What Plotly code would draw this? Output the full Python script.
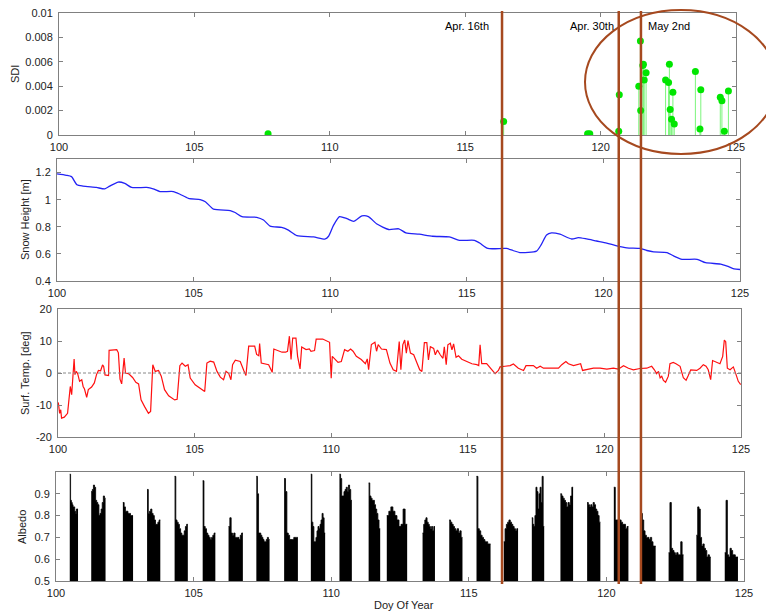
import plotly.graph_objects as go

# the page body adds an 8px margin, so the figure is drawn 8px smaller and offset
OFF = 8
W, H = 774 - OFF, 614 - OFF

# ---------------- data ----------------
sdi_day = [107.72, 116.42, 119.52, 119.60, 120.67, 120.69, 121.41, 121.47, 121.48, 121.56, 121.58,
           121.61, 121.68, 122.40, 122.51, 122.54, 122.57, 122.62, 122.67, 122.72, 123.50, 123.67,
           123.70, 124.42, 124.48, 124.57, 124.72]
sdi_val = [0.0001, 0.0011, 0.0001, 0.0001, 0.0003, 0.0033, 0.0040, 0.0077, 0.0020, 0.0057, 0.0058,
           0.0045, 0.0051, 0.0045, 0.0043, 0.0058, 0.0021, 0.0013, 0.0035, 0.0009, 0.0052, 0.0005,
           0.0037, 0.0031, 0.0028, 0.0003, 0.0036]

snow_day = [100.0, 100.34, 100.53, 100.73, 100.95, 101.44, 101.75, 101.93, 102.24, 102.48, 102.73,
            103.28, 103.52, 103.77, 104.26, 104.50, 104.81, 105.24, 105.43, 105.73, 106.34, 106.52,
            106.77, 107.31, 107.56, 107.80, 108.22, 108.47, 108.78, 109.39, 109.82, 109.94, 110.12,
            110.34, 110.61, 110.86, 111.16, 111.40, 111.71, 112.14, 112.51, 112.77, 113.26, 113.75,
            114.36, 114.73, 115.28, 115.47, 115.77, 116.45, 116.69, 116.94, 117.55, 117.73, 117.92,
            118.10, 118.41, 118.84, 119.08, 119.39, 119.75, 120.12, 120.49, 120.86, 121.35, 121.59,
            121.84, 122.33, 122.57, 122.88, 123.43, 123.74, 124.29, 124.53, 124.78, 125.0]
snow_val = [1.19, 1.18, 1.17, 1.11, 1.10, 1.09, 1.08, 1.10, 1.13, 1.12, 1.09,
            1.09, 1.08, 1.06, 1.06, 1.04, 1.01, 1.00, 0.985, 0.93, 0.92, 0.905,
            0.875, 0.87, 0.85, 0.805, 0.795, 0.775, 0.735, 0.725, 0.71, 0.73, 0.81,
            0.875, 0.86, 0.84, 0.88, 0.875, 0.82, 0.78, 0.785, 0.755, 0.745, 0.73,
            0.725, 0.70, 0.70, 0.68, 0.64, 0.64, 0.625, 0.61, 0.62, 0.67, 0.74,
            0.755, 0.745, 0.71, 0.72, 0.71, 0.695, 0.68, 0.66, 0.645, 0.64, 0.625,
            0.615, 0.61, 0.585, 0.56, 0.56, 0.535, 0.525, 0.51, 0.49, 0.485]

temp_day = [100.01, 100.06, 100.10, 100.13, 100.23, 100.35, 100.40, 100.45, 100.50, 100.55, 100.59,
            100.62, 100.67, 100.72, 100.79, 100.87, 100.92, 100.97, 101.05, 101.11, 101.23, 101.33,
            101.41, 101.48, 101.56, 101.63, 101.67, 101.72, 101.85, 101.87, 102.15, 102.21, 102.27,
            102.33, 102.38, 102.42, 102.47, 102.58, 102.73, 102.85, 102.95, 103.04, 103.17, 103.31,
            103.39, 103.47, 103.56, 103.68, 103.78, 103.90, 104.05, 104.27, 104.36, 104.46, 104.54,
            104.66, 104.76, 104.84, 105.02, 105.24, 105.37, 105.45, 105.57, 105.70, 105.82, 105.94,
            106.06, 106.15, 106.25, 106.33, 106.39, 106.49, 106.67, 106.80, 106.88, 106.98, 107.20,
            107.27, 107.35, 107.38, 107.44, 107.71, 107.84, 107.90, 108.20, 108.33,
            108.40, 108.47, 108.53, 108.59, 108.71, 108.77, 108.86, 108.92, 109.08, 109.20, 109.26,
            109.39, 109.45, 109.69, 109.94, 110.00, 110.04, 110.25, 110.37, 110.49, 110.61, 110.71,
            110.80, 110.92, 111.10, 111.25, 111.32, 111.37, 111.47, 111.60, 111.66, 111.72, 111.84,
            112.02, 112.15, 112.27, 112.39, 112.49,
            112.55, 112.62, 112.69, 112.75, 112.81, 112.90, 113.02, 113.14, 113.24, 113.32, 113.41,
            113.50, 113.56, 113.63, 113.75, 113.81, 113.89, 113.99, 114.09, 114.14, 114.21, 114.27,
            114.36, 114.42, 114.48, 114.57, 114.66, 114.78, 114.96, 115.15, 115.33, 115.40, 115.45,
            115.51, 115.69, 115.82, 116.00, 116.12, 116.18, 116.36, 116.55,
            116.67, 116.85, 117.04, 117.13, 117.40, 117.52, 117.65, 117.77, 118.32, 118.44, 118.59,
            118.68, 118.87, 119.01, 119.13, 119.20, 119.35, 119.60, 119.84, 120.09, 120.33, 120.51,
            120.70, 120.88, 121.06, 121.30, 121.55, 121.73, 121.83, 121.91, 121.98, 122.04, 122.10,
            122.16, 122.24, 122.34, 122.40, 122.52, 122.62, 122.77, 122.89, 122.99, 123.07, 123.16,
            123.38, 123.50, 123.62, 123.72, 123.80, 123.89, 123.96, 124.23, 124.33, 124.39, 124.44,
            124.50, 124.60, 124.72, 124.82, 124.90, 124.99]
temp_val = [-9.2, -12.6, -11.5, -14.1, -13.8, -12.6, -8.4, -4.2, -6.8, -1.0, 4.4,
            -0.5, 0.5, -0.2, -2.6, -2.1, -4.2, -5.0, -7.6, -5.2, -4.4, -3.1,
            -0.5, 0.8, 0.7, 2.5, 2.1, -0.6, -0.8, 7.1, 7.3, 6.3, -1.9,
            -3.4, 0.2, 4.7, 0.0, -0.2, -1.4, -2.9, -3.4, -8.4, -10.5, -12.6,
            -12.0, 2.6, 0.5, 0.8, -1.0, -5.2, -7.1, -8.4, -8.2, 2.3, 3.1,
            2.1, 2.6, -1.6, -3.7, -5.2, -5.8, 3.1, 3.7, 3.4, 0.5, -1.3,
            -2.1, 0.5, -0.2, -2.1, 2.6, 4.0, 3.6, 0.8, -0.8, 8.4, 8.4,
            5.8, 5.4, 9.2, 3.1, 2.6, 0.2, 7.5, 6.5, 6.5,
            6.8, 11.5, 4.2, 10.9, 10.9, 5.2, 1.3, 8.1, 7.3, 7.5, 6.8,
            7.0, 10.6, 10.6, 9.6, -1.6, 5.2, 3.3, 3.6, 7.3, 6.8, 7.5,
            6.8, 5.2, 4.2, 2.9, 4.4, 1.0, 8.9, 9.6, 6.8, 8.9, 7.5,
            7.3, 3.1, 1.0, 0.5, 9.8,
            1.0, 8.8, 10.3, 6.2, 10.1, 6.2, 5.7, 3.1, 1.0, 0.5, 9.5,
            9.5, 4.1, 8.2, 7.7, 5.7, 7.2, 5.7, 4.6, 8.2, 2.6, 8.8,
            9.3, 7.2, 9.1, 4.9, 5.4, 4.3, 3.6, 2.9, 2.6, 2.3, 8.8,
            2.9, 2.9, 1.5, -0.2, 0.8, 1.9, 2.1, 2.3,
            2.8, 1.5, 0.8, 2.3, 2.3, 1.5, 2.1, 1.5, 1.5, 2.6, 3.6,
            2.9, 2.3, 2.6, 2.9, 0.8, 1.0, 1.5, 1.5, 1.2, 1.5, 1.2,
            2.3, 1.5, 1.0, 1.4, 1.5, 2.1, 1.0, -0.2, 0.5, -1.5, -1.0,
            -2.3, -2.9, -1.0, 2.9, 3.3, 2.9, 2.1, -1.5, -2.3, -0.8, 1.0,
            0.8, 1.5, 2.6, 2.1, 1.0, -2.1, 3.9, 2.9, 5.2, 10.3, 9.8,
            1.5, 1.0, 1.9, -0.5, -2.6, -3.6]

alb_start = [100.50, 101.28, 102.43, 103.31, 104.31, 105.33, 106.27, 107.28, 108.29, 109.26,
             110.30, 111.36, 112.02, 113.32, 114.29, 115.28, 116.27, 117.29, 118.33, 119.30,
             120.27, 121.26, 122.26, 123.27, 124.30]
alb_end = [100.80, 101.80, 102.80, 103.79, 104.79, 105.79, 106.79, 107.76, 108.79, 109.78,
           110.75, 111.78, 112.76, 113.77, 114.77, 115.79, 116.79, 117.74, 118.79, 119.78,
           120.80, 121.79, 122.80, 123.79, 124.78]
alb_vals = [
    [0.99, 0.87, 0.86, 0.85, 0.84, 0.84, 0.82, 0.81, 0.83, 0.83],
    [0.91, 0.92, 0.94, 0.93, 0.87, 0.86, 0.85, 0.80, 0.81, 0.83, 0.86, 0.89, 0.88],
    [0.86, 0.84, 0.82, 0.82, 0.81, 0.81, 0.80, 0.80],
    [0.92, 0.81, 0.82, 0.83, 0.81, 0.80, 0.78, 0.76, 0.76, 0.77, 0.78],
    [0.98, 0.78, 0.77, 0.76, 0.74, 0.72, 0.71, 0.71, 0.73, 0.75, 0.76],
    [0.96, 0.75, 0.74, 0.72, 0.71, 0.70, 0.69, 0.70, 0.71, 0.72],
    [0.75, 0.79, 0.72, 0.71, 0.72, 0.70, 0.70, 0.70, 0.69, 0.71, 0.72],
    [0.98, 0.90, 0.72, 0.72, 0.71, 0.70, 0.69, 0.68, 0.68, 0.69, 0.70, 0.69],
    [0.97, 0.91, 0.72, 0.71, 0.69, 0.69, 0.69, 0.70, 0.70, 0.70],
    [0.99, 0.77, 0.75, 0.68, 0.68, 0.70, 0.73, 0.75, 0.74, 0.76, 0.78, 0.81, 0.79, 0.72],
    [0.99, 0.97, 0.89, 0.89, 0.91, 0.92, 0.93, 0.91, 0.94, 0.92, 0.87],
    [0.95, 0.89, 0.88, 0.87, 0.87, 0.85, 0.83, 0.81, 0.78, 0.74],
    [0.80, 0.82, 0.84, 0.82, 0.80, 0.78, 0.75, 0.76, 0.83, 0.76],
    [0.72, 0.76, 0.78, 0.79, 0.77, 0.76, 0.75, 0.74, 0.75, 0.73, 0.75],
    [0.78, 0.77, 0.76, 0.75, 0.74, 0.73, 0.74, 0.72, 0.73, 0.70],
    [0.98, 0.74, 0.73, 0.71, 0.70, 0.69, 0.68, 0.68, 0.67, 0.67],
    [0.68, 0.74, 0.76, 0.77, 0.78, 0.77, 0.76, 0.75, 0.74, 0.73, 0.74],
    [0.79, 0.76, 0.75, 0.80, 0.93, 0.91, 0.83, 0.90, 0.93, 0.86, 0.98, 0.75],
    [0.90, 0.89, 0.88, 0.87, 0.86, 0.84, 0.86, 0.85, 0.89, 0.93],
    [0.86, 0.85, 0.84, 0.85, 0.84, 0.86, 0.85, 0.83, 0.82, 0.80, 0.77],
    [0.93, 0.78, 0.78, 0.77, 0.78, 0.77, 0.76, 0.76, 0.74, 0.75],
    [0.81, 0.78, 0.73, 0.71, 0.70, 0.70, 0.69, 0.70, 0.68, 0.66, 0.66],
    [0.63, 0.86, 0.65, 0.64, 0.63, 0.62, 0.63, 0.62, 0.62, 0.68, 0.62],
    [0.71, 0.84, 0.83, 0.70, 0.66, 0.67, 0.65, 0.64, 0.61, 0.62, 0.61],
    [0.63, 0.87, 0.62, 0.61, 0.65, 0.64, 0.62, 0.62, 0.61, 0.61],
]

event_days = [116.36, 120.67, 121.49]
event_labels = ["Apr. 16th", "Apr. 30th", "May 2nd"]
event_label_days = [115.07, 119.68, 122.53]

x_ticks = [100, 105, 110, 115, 120, 125]

# ---------------- figure ----------------
FONT = "Liberation Sans, Arial, Helvetica, sans-serif"
AX = "#808080"
BROWN = "#A6491F"

fig = go.Figure()

# SDI stems + markers
stem_x, stem_y = [], []
for d, v in zip(sdi_day, sdi_val):
    stem_x += [d, d, None]
    stem_y += [0, v, None]
fig.add_trace(go.Scatter(x=stem_x, y=stem_y, mode="lines", line=dict(color="#7CF57C", width=1),
                         xaxis="x", yaxis="y", hoverinfo="skip"))
fig.add_trace(go.Scatter(x=sdi_day, y=sdi_val, mode="markers",
                         marker=dict(color="#00E600", size=7, line=dict(width=0)),
                         xaxis="x", yaxis="y"))

fig.add_trace(go.Scatter(x=snow_day, y=snow_val, mode="lines",
                         line=dict(color="#2323F5", width=1.3, shape="spline", smoothing=0.6),
                         xaxis="x2", yaxis="y2"))

fig.add_trace(go.Scatter(x=temp_day, y=temp_val, mode="lines", line=dict(color="#FF1010", width=1.2),
                         xaxis="x3", yaxis="y3"))

# albedo: daytime blocks of dense bars, drawn as filled steps
for s, e, vals in zip(alb_start, alb_end, alb_vals):
    step = (e - s) / len(vals)
    xs = [s + i * step for i in range(len(vals))] + [e]
    ys = list(vals) + [vals[-1]]
    fig.add_trace(go.Scatter(x=xs, y=ys, mode="lines", line=dict(color="black", width=0.8, shape="hv"),
                             fill="tozeroy", fillcolor="black", xaxis="x4", yaxis="y4"))

def px_x(p):
    return (p - OFF) / W

def px_y(p):
    return 1 - (p - OFF) / H

panels = [
    (59, 736, 13, 135),
    (57, 740, 159, 281),
    (58, 741, 309, 437),
    (56, 744, 472, 581),
]
yspecs = [
    dict(range=[0, 0.01], tickvals=[0, 0.002, 0.004, 0.006, 0.008, 0.01],
         ticktext=["0", "0.002", "0.004", "0.006", "0.008", "0.01"]),
    dict(range=[0.4, 1.3], tickvals=[0.4, 0.6, 0.8, 1.0, 1.2], ticktext=["0.4", "0.6", "0.8", "1", "1.2"]),
    dict(range=[-20, 20], tickvals=[-20, -10, 0, 10, 20], ticktext=["-20", "-10", "0", "10", "20"]),
    dict(range=[0.5, 1.0], tickvals=[0.5, 0.6, 0.7, 0.8, 0.9], ticktext=["0.5", "0.6", "0.7", "0.8", "0.9"]),
]
common = dict(showline=True, linecolor=AX, linewidth=1, mirror="ticks", ticks="inside",
              ticklen=4, tickcolor=AX, showgrid=False, zeroline=False, automargin=False,
              ticklabeloverflow="allow",
              tickfont=dict(family=FONT, size=11, color="#222"))
for i, (l, r, t, b) in enumerate(panels):
    n = "" if i == 0 else str(i + 1)
    fig.layout["xaxis" + n] = dict(domain=[px_x(l), px_x(r)], range=[100, 125], anchor="y" + n,
                                   tickvals=x_ticks, ticktext=[str(v) for v in x_ticks],
                                   ticklabelstandoff=2, **common)
    fig.layout["yaxis" + n] = dict(domain=[px_y(b), px_y(t)], anchor="x" + n, ticklabelstandoff=3,
                                   **yspecs[i], **common)

shapes = []
shapes.append(dict(type="line", xref="x3", yref="y3", x0=100, x1=125, y0=0, y1=0,
                   line=dict(color="#888", width=1, dash="3px,2px")))
for d in event_days:
    shapes.append(dict(type="line", xref="x", yref="paper", x0=d, x1=d, y0=px_y(584), y1=px_y(11),
                       line=dict(color=BROWN, width=2.5)))
shapes.append(dict(type="circle", xref="paper", yref="paper", x0=px_x(585), x1=px_x(777),
                   y0=px_y(154), y1=px_y(10), line=dict(color=BROWN, width=2)))

ann = []
for d, t in zip(event_label_days, event_labels):
    ann.append(dict(x=d, y=px_y(26), xref="x", yref="paper", text=t, showarrow=False,
                    xanchor="center", yanchor="middle",
                    font=dict(family=FONT, size=11, color="black")))
ylabels = [("SDI", 15, 74), ("Snow Height [m]", 25, 220), ("Surf. Temp. [deg]", 25, 373), ("Albedo", 22, 527)]
for t, x, y in ylabels:
    ann.append(dict(x=px_x(x), y=px_y(y), xref="paper", yref="paper", text=t, showarrow=False,
                    xanchor="center", yanchor="middle", textangle=-90,
                    font=dict(family=FONT, size=11, color="#222")))
ann.append(dict(x=px_x(404), y=px_y(605), xref="paper", yref="paper", text="Doy Of Year", showarrow=False,
                xanchor="center", yanchor="middle", font=dict(family=FONT, size=11, color="#222")))

fig.update_layout(width=W, height=H, margin=dict(l=0, r=0, t=0, b=0, autoexpand=False), showlegend=False,
                  plot_bgcolor="white", paper_bgcolor="white", shapes=shapes, annotations=ann,
                  font=dict(family=FONT))

fig.write_html("out.html")
